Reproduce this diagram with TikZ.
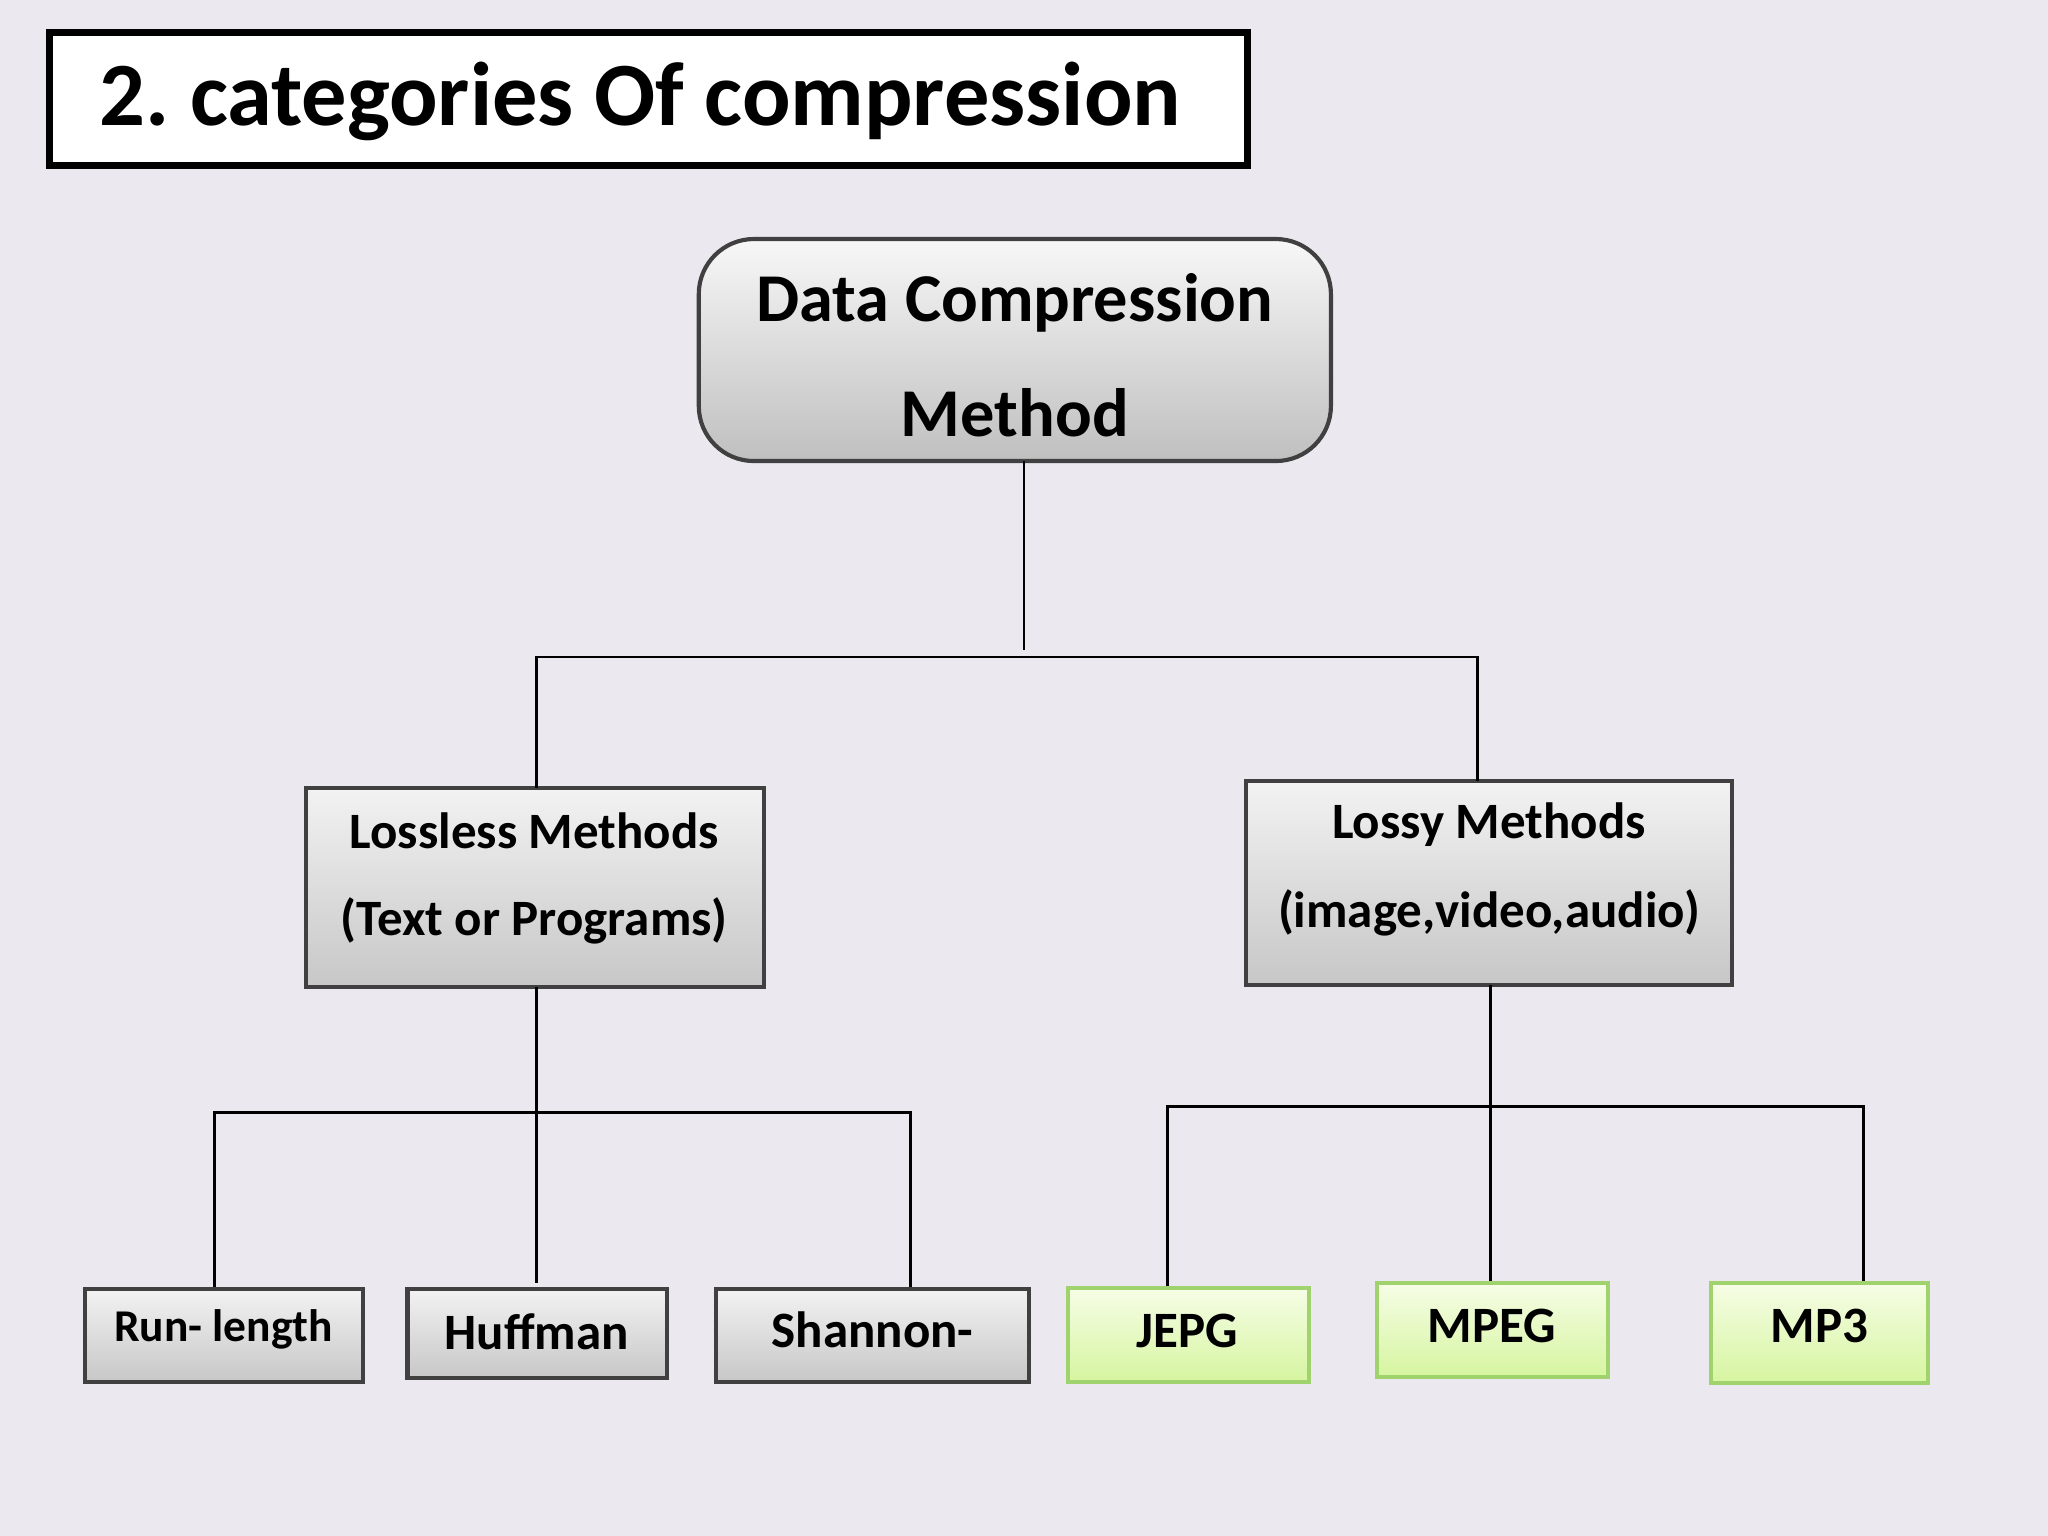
\documentclass[tikz,border=0pt]{standalone}
\usepackage{fontspec}
\setmainfont{Carlito}
\begin{document}
\begin{tikzpicture}[x=0.01cm,y=-0.01cm,
  gbox/.style={line width=0.9pt,top color=white!95!black,bottom color=black!22,draw=black!75},
  gleaf/.style={line width=0.9pt,top color={rgb,255:red,246;green,253;blue,230},bottom color={rgb,255:red,214;green,245;blue,160},draw={rgb,255:red,160;green,210;blue,110}},
  txt/.style={font=\bfseries\fontsize{11.1pt}{13pt}\selectfont},
  conn/.style={line width=0.6pt}]
\fill[fill={rgb,255:red,235;green,233;blue,239}] (0,0) rectangle (1568,1176);
\useasboundingbox (0,0) rectangle (1568,1176);
\draw[line width=1.5pt,fill=white] (38,25) rectangle (955,127);
\node[anchor=west,font=\bfseries\fontsize{19.7pt}{22pt}\selectfont] (tt) at (64,78) {2.\ categories Of compression};
\draw[line width=0.9pt,rounded corners=12pt,top color=white!97!black,bottom color=black!25,draw=black!75] (535,183) rectangle (1019,353);
\node[font=\bfseries\fontsize{14.9pt}{17pt}\selectfont] (r1) at (777,232) {Data Compression};
\node[font=\bfseries\fontsize{14.9pt}{17pt}\selectfont] (r2) at (777,316) {Method};
\coordinate (root) at (784,353);
\draw[gbox] (234,603) rectangle (585,756);
\node[txt] (l1) at (409,636) {Lossless Methods};
\node[txt] (l2) at (409,705) {(Text or Programs)};
\draw[gbox] (954,598) rectangle (1326,754);
\node[txt] (y1) at (1140,631) {Lossy Methods};
\node[txt] (y2) at (1140,699) {(image,video,audio)};
\coordinate (yt) at (1131,598); \coordinate (yb) at (1141,754); \coordinate (lb) at (411,756);
\draw[conn] (root) -- (784,498);
\draw[conn] (411,603) -- (411,503) -- (1131,503) -- (yt);
\draw[conn] (lb) -- (411,852);
\draw[conn] (164,987) -- (164,852) -- (697,852) -- (697,987);
\draw[conn] (411,852) -- (411,982);
\draw[conn] (yb) -- (1141,847);
\draw[conn] (894,986) -- (894,847) -- (1427,847) -- (1427,982);
\draw[conn] (1141,847) -- (1141,982);
\draw[gbox] (65,987) rectangle (278,1058);
\node[font=\bfseries\fontsize{9.9pt}{11pt}\selectfont] (a) at (171,1018) {Run- length};
\draw[gbox] (312,987) rectangle (511,1055);
\node[txt] (b) at (411,1020) {Huffman};
\draw[gbox] (548,987) rectangle (788,1058);
\node[txt] (c) at (668,1018) {Shannon-};
\draw[gleaf] (818,986) rectangle (1002,1058);
\node[txt] (d) at (909,1019) {JEPG};
\draw[gleaf] (1054,982) rectangle (1231,1054);
\node[txt] (e) at (1142,1015) {MPEG};
\draw[gleaf] (1310,982) rectangle (1476,1059);
\node[txt] (f) at (1393,1015) {MP3};
\end{tikzpicture}
\end{document}
